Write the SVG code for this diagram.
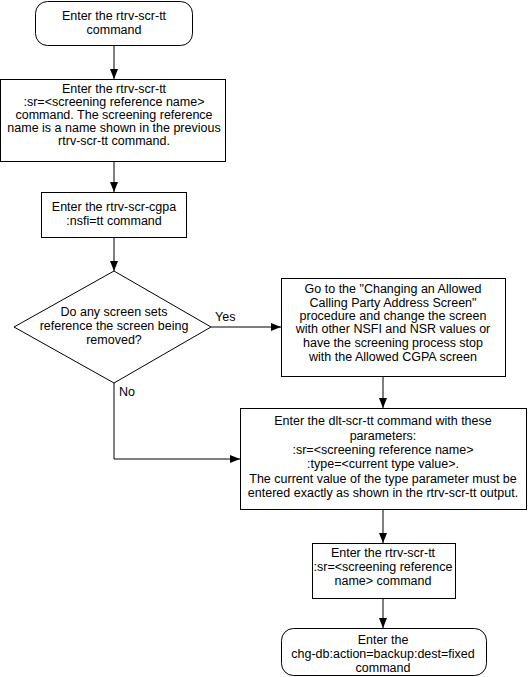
<svg xmlns="http://www.w3.org/2000/svg" width="528" height="677" viewBox="0 0 528 677">
<defs>
<style>
.box{fill:#fff;stroke:#000;stroke-width:1}
.t{font-family:"Liberation Sans",Arial,sans-serif;font-size:12.5px;fill:#000;text-anchor:middle}
.l{font-family:"Liberation Sans",Arial,sans-serif;font-size:12.5px;fill:#000}
.c{fill:none;stroke:#000;stroke-width:1}
</style>
<marker id="ah" markerWidth="10" markerHeight="8" refX="10" refY="4" orient="auto" markerUnits="userSpaceOnUse">
<path d="M0,0 L10,4 L0,8 Z" fill="#000"/>
</marker>
</defs>
<rect width="528" height="677" fill="#fff"/>
<g id="connectors">
<path class="c" d="M114,45 V79" marker-end="url(#ah)"/>
<path class="c" d="M114,161 V192" marker-end="url(#ah)"/>
<path class="c" d="M114,237 V271" marker-end="url(#ah)"/>
<path class="c" d="M211,327 H281" marker-end="url(#ah)"/>
<path class="c" d="M383,376 V408" marker-end="url(#ah)"/>
<path class="c" d="M114,383 V459 H240" marker-end="url(#ah)"/>
<path class="c" d="M383,510 V543" marker-end="url(#ah)"/>
<path class="c" d="M383,598 V628" marker-end="url(#ah)"/>
<text class="l" x="215" y="321">Yes</text>
<text class="l" x="119" y="396">No</text>
</g>
<g id="n1">
<rect class="box" x="35.5" y="1.5" width="157" height="44" rx="12"/>
<text class="t" x="114" y="20">Enter the rtrv-scr-tt</text>
<text class="t" x="114" y="34">command</text>
</g>
<g id="n2">
<rect class="box" x="0.5" y="79.5" width="225" height="82"/>
<text class="t" x="114" y="93">Enter the rtrv-scr-tt</text>
<text class="t" x="114" y="106">:sr=&lt;screening reference name&gt;</text>
<text class="t" x="114" y="119">command. The screening reference</text>
<text class="t" x="114" y="132">name is a name shown in the previous</text>
<text class="t" x="114" y="145">rtrv-scr-tt command.</text>
</g>
<g id="n3">
<rect class="box" x="41.5" y="192.5" width="145" height="45"/>
<text class="t" x="114" y="211">Enter the rtrv-scr-cgpa</text>
<text class="t" x="114" y="225">:nsfi=tt  command</text>
</g>
<g id="n4">
<polygon class="box" points="114,271 211,327 114,383 14,327"/>
<text class="t" x="114" y="316">Do any screen sets</text>
<text class="t" x="114" y="330">reference the screen being</text>
<text class="t" x="114" y="344">removed?</text>
</g>
<g id="n5">
<rect class="box" x="281.5" y="278.5" width="224" height="98"/>
<text class="t" x="393" y="293">Go to the "Changing an Allowed</text>
<text class="t" x="393" y="307">Calling Party Address Screen"</text>
<text class="t" x="393" y="320">procedure and change the screen</text>
<text class="t" x="393" y="333">with other NSFI and NSR values or</text>
<text class="t" x="393" y="347">have the screening process stop</text>
<text class="t" x="393" y="361">with the Allowed CGPA screen</text>
</g>
<g id="n6">
<rect class="box" x="240.5" y="408.5" width="286" height="101"/>
<text class="t" x="383" y="425">Enter the dlt-scr-tt command with these</text>
<text class="t" x="383" y="440">parameters:</text>
<text class="t" x="383" y="454">:sr=&lt;screening reference name&gt;</text>
<text class="t" x="383" y="468">:type=&lt;current type value&gt;.</text>
<text class="t" x="383" y="483">The current value of the type parameter must be</text>
<text class="t" x="383" y="497">entered exactly as shown in the rtrv-scr-tt output.</text>
</g>
<g id="n7">
<rect class="box" x="312.5" y="543.5" width="143" height="55"/>
<text class="t" x="383" y="557">Enter the rtrv-scr-tt</text>
<text class="t" x="383" y="571">:sr=&lt;screening reference</text>
<text class="t" x="383" y="585">name&gt; command</text>
</g>
<g id="n8">
<rect class="box" x="281.5" y="628.5" width="205" height="47" rx="12"/>
<text class="t" x="383" y="644">Enter the</text>
<text class="t" x="383" y="658">chg-db:action=backup:dest=fixed</text>
<text class="t" x="383" y="672">command</text>
</g>
</svg>
